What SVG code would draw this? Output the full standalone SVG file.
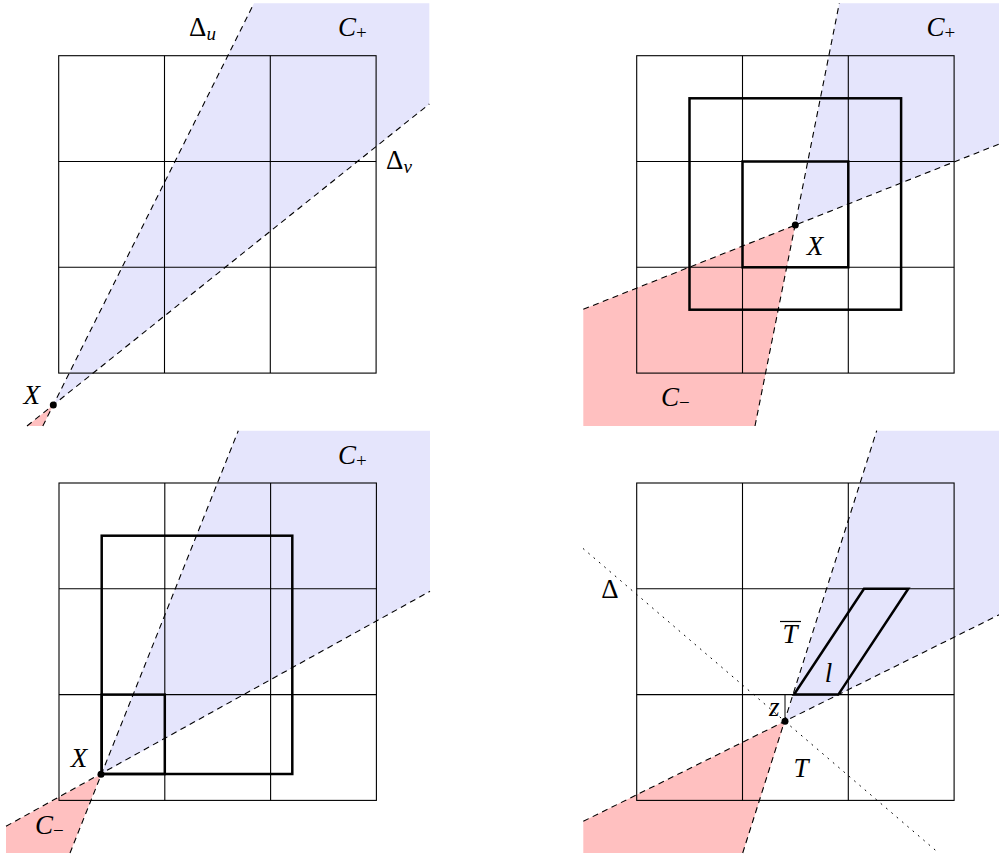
<svg xmlns="http://www.w3.org/2000/svg" width="999" height="858" viewBox="0 0 999 858">
<style>
.bg{fill:#ffffff}
.blue{fill:#e5e5fc;stroke:none}
.pink{fill:#ffc0c0;stroke:none}
.grid{fill:none;stroke:#000;stroke-width:1.1}
.bold{fill:none;stroke:#000;stroke-width:2.5;stroke-linejoin:miter}
.thin{fill:none;stroke:#000;stroke-width:1}
.dash{fill:none;stroke:#000;stroke-width:1.1;stroke-dasharray:6 4.5}
.dot{fill:none;stroke:#000;stroke-width:1;stroke-dasharray:1 6;stroke-linecap:round}
.pt{fill:#000}
text{font-family:"Liberation Serif","DejaVu Serif",serif;font-size:27px;fill:#000}
.it{font-style:italic}
.sub{font-size:19px}
</style>
<rect class="bg" x="0" y="0" width="999" height="858"/>

<g id="panel1">
  <polygon class="blue" points="53.3,405 254,3.3 429.3,3.3 429.3,104"/>
  <polygon class="pink" points="53.3,405 27,426 42.8,426"/>
  <g id="grid1" class="grid">
    <rect x="58.7" y="55.7" width="317.4" height="317.4"/>
    <line x1="164.5" y1="55.7" x2="164.5" y2="373.1"/>
    <line x1="270.3" y1="55.7" x2="270.3" y2="373.1"/>
    <line x1="58.7" y1="161.5" x2="376.1" y2="161.5"/>
    <line x1="58.7" y1="267.3" x2="376.1" y2="267.3"/>
  </g>
  <g id="connectors1">
    <line class="dash" x1="42.8" y1="426" x2="254" y2="3.3"/>
    <line class="dash" x1="27" y1="426" x2="429.3" y2="104"/>
  </g>
  <circle class="pt" cx="53.3" cy="405" r="3.5"/>
  <text x="189" y="36">Δ<tspan class="it sub" dy="4">u</tspan></text>
  <text class="it" x="338" y="36">C<tspan class="sub" style="font-style:normal" dy="3">+</tspan></text>
  <text class="it" x="31.7" y="404" text-anchor="middle">X</text>
  <text x="386" y="169">Δ<tspan class="it sub" dy="4">v</tspan></text>
</g>

<g id="panel2">
  <polygon class="blue" points="795.3,225 839.3,3.3 999.3,3.3 999.3,144"/>
  <polygon class="pink" points="795.3,225 583.3,309.3 583.3,426 755,426"/>
  <g id="grid2" class="grid">
    <rect x="636.7" y="55.7" width="317.4" height="317.4"/>
    <line x1="742.5" y1="55.7" x2="742.5" y2="373.1"/>
    <line x1="848.3" y1="55.7" x2="848.3" y2="373.1"/>
    <line x1="636.7" y1="161.5" x2="954.1" y2="161.5"/>
    <line x1="636.7" y1="267.3" x2="954.1" y2="267.3"/>
  </g>
  <g id="boxes2">
    <rect class="bold" x="689.5" y="98.3" width="211.6" height="211.4"/>
    <rect class="bold" x="742.5" y="161.5" width="105.8" height="105.8"/>
  </g>
  <g id="connectors2">
    <line class="dash" x1="755" y1="426" x2="839.3" y2="3.3"/>
    <line class="dash" x1="583.3" y1="309.3" x2="999.3" y2="144"/>
  </g>
  <circle class="pt" cx="795.3" cy="225" r="3.5"/>
  <text class="it" x="926.5" y="36">C<tspan class="sub" style="font-style:normal" dy="3">+</tspan></text>
  <text class="it" x="661" y="406">C<tspan class="sub" style="font-style:normal" dy="3">−</tspan></text>
  <text class="it" x="815" y="255" text-anchor="middle">X</text>
</g>

<g id="panel3">
  <polygon class="blue" points="101,774.3 238.3,430.7 430,430.7 430,591.3"/>
  <polygon class="pink" points="101,774.3 6,826.3 6,853 70,853"/>
  <g id="grid3" class="grid">
    <rect x="59" y="483" width="317.4" height="317.4"/>
    <line x1="164.8" y1="483" x2="164.8" y2="800.4"/>
    <line x1="270.6" y1="483" x2="270.6" y2="800.4"/>
    <line x1="59" y1="588.8" x2="376.4" y2="588.8"/>
    <line x1="59" y1="694.6" x2="376.4" y2="694.6"/>
  </g>
  <g id="boxes3">
    <rect class="bold" x="101.7" y="535.7" width="190.6" height="238.3"/>
    <rect class="bold" x="101.7" y="694.6" width="63.1" height="79.4"/>
  </g>
  <g id="connectors3">
    <line class="dash" x1="70" y1="853" x2="238.3" y2="430.7"/>
    <line class="dash" x1="6" y1="826.3" x2="430" y2="591.3"/>
  </g>
  <circle class="pt" cx="101" cy="774.3" r="3.5"/>
  <text class="it" x="338" y="464">C<tspan class="sub" style="font-style:normal" dy="3">+</tspan></text>
  <text class="it" x="35" y="834">C<tspan class="sub" style="font-style:normal" dy="3">−</tspan></text>
  <text class="it" x="79" y="767" text-anchor="middle">X</text>
</g>

<g id="panel4">
  <polygon class="blue" points="785,721.3 876.7,430.7 999.3,430.7 999.3,614.7"/>
  <polygon class="pink" points="785,721.3 583.3,821.3 583.3,853 742.7,853"/>
  <g id="grid4" class="grid">
    <rect x="636.7" y="483" width="317.4" height="317.4"/>
    <line x1="742.5" y1="483" x2="742.5" y2="800.4"/>
    <line x1="848.3" y1="483" x2="848.3" y2="800.4"/>
    <line x1="636.7" y1="588.8" x2="954.1" y2="588.8"/>
    <line x1="636.7" y1="694.6" x2="954.1" y2="694.6"/>
  </g>
  <polygon id="tile-l" class="bold" points="794,694.6 838.3,694.6 908.3,588.8 864,588.8"/>
  <line id="z-tick" class="thin" x1="785" y1="694.6" x2="785" y2="721.3"/>
  <g id="connectors4">
    <line class="dash" x1="742.7" y1="853" x2="876.7" y2="430.7"/>
    <line class="dash" x1="583.3" y1="821.3" x2="999.3" y2="614.7"/>
    <line class="dot" x1="583.3" y1="548.7" x2="936.7" y2="851.3"/>
  </g>
  <circle class="pt" cx="785" cy="721.3" r="3.5"/>
  <text x="610" y="598" text-anchor="middle">Δ</text>
  <text class="it" x="790" y="643" text-anchor="middle">T</text>
  <line class="thin" x1="780" y1="621.5" x2="801" y2="621.5" style="stroke-width:1.2"/>
  <text class="it" x="828.5" y="682" text-anchor="middle">l</text>
  <text class="it" x="774.3" y="715.5" text-anchor="middle">z</text>
  <text class="it" x="801" y="777" text-anchor="middle">T</text>
</g>
</svg>
